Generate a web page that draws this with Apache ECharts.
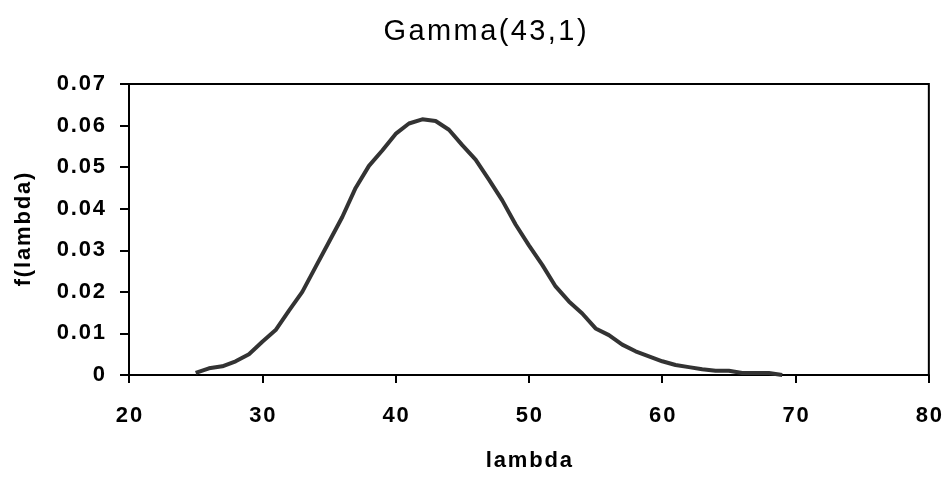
<!DOCTYPE html>
<html>
<head>
<meta charset="utf-8">
<script src="https://cdn.jsdelivr.net/npm/echarts@6/dist/echarts.min.js"></script>
<style>html,body{margin:0;padding:0;background:#fff}#c{width:945px;height:477px}</style>
</head>
<body>
<div id="c"></div>
<script>
const titleText = 'Gamma(43,1)';
const xName = 'lambda';
const yName = 'f(lambda)';
const lambdaValues = [25,26,27,28,29,30,31,32,33,34,35,36,37,38,39,40,41,42,43,44,45,46,47,48,49,50,51,52,53,54,55,56,57,58,59,60,61,62,63,64,65,66,67,68,69];
const densityValues = [0.0005,0.0016,0.0021,0.0033,0.0050,0.0080,0.0108,0.0155,0.0200,0.0260,0.0320,0.0380,0.0450,0.0503,0.0540,0.0580,0.0605,0.0615,0.0611,0.0590,0.0553,0.0518,0.0470,0.0420,0.0362,0.0312,0.0265,0.0213,0.0177,0.0148,0.0112,0.0096,0.0073,0.0057,0.0045,0.0033,0.0024,0.0019,0.0014,0.0010,0.0010,0.0005,0.0005,0.0005,0.0000];
const xTicks = {min: 20, max: 80, interval: 10};
const yTicks = {min: 0, max: 0.07, interval: 0.01};

const FONT = "'Liberation Sans', Arial, sans-serif";
const sp = s => String(s).split('').join('\u200A');

const chart = echarts.init(document.getElementById('c'), null, {renderer: 'canvas'});
chart.setOption({
  animation: false,
  backgroundColor: '#fff',
  title: {
    text: sp(titleText),
    left: 480, top: 12, textAlign: 'center',
    textStyle: {fontFamily: FONT, fontSize: 29, fontWeight: 'normal', color: '#000'}
  },
  grid: {left: 129, right: 12, top: 84, bottom: 99, show: true, borderColor: '#000', borderWidth: 2, backgroundColor: 'transparent'},
  xAxis: {
    type: 'value', min: xTicks.min, max: xTicks.max, interval: xTicks.interval,
    name: sp(xName), nameLocation: 'middle', nameGap: 75,
    nameTextStyle: {fontFamily: FONT, fontSize: 22, fontWeight: 'bold', color: '#000'},
    axisLine: {show: true, lineStyle: {color: '#000', width: 2}},
    axisTick: {show: true, length: 8, lineStyle: {color: '#000', width: 2}},
    axisLabel: {margin: 30, fontFamily: FONT, fontSize: 22, fontWeight: 'bold', color: '#000', formatter: v => sp(v)},
    splitLine: {show: false}
  },
  yAxis: {
    type: 'value', min: yTicks.min, max: yTicks.max, interval: yTicks.interval,
    name: sp(yName), nameLocation: 'middle', nameGap: 94, nameRotate: 90,
    nameTextStyle: {fontFamily: FONT, fontSize: 22, fontWeight: 'bold', color: '#000'},
    axisLine: {show: true, lineStyle: {color: '#000', width: 2}},
    axisTick: {show: true, length: 9, lineStyle: {color: '#000', width: 2}},
    axisLabel: {margin: 24, fontFamily: FONT, fontSize: 22, fontWeight: 'bold', color: '#000',
      formatter: v => sp(v === 0 ? '0' : v.toFixed(2))},
    splitLine: {show: false}
  },
  series: [{
    type: 'line',
    data: lambdaValues.map((x, i) => [x, densityValues[i]]),
    showSymbol: false, smooth: false,
    lineStyle: {color: '#333', width: 4},
    itemStyle: {color: '#333'}
  }]
});
</script>
</body>
</html>
